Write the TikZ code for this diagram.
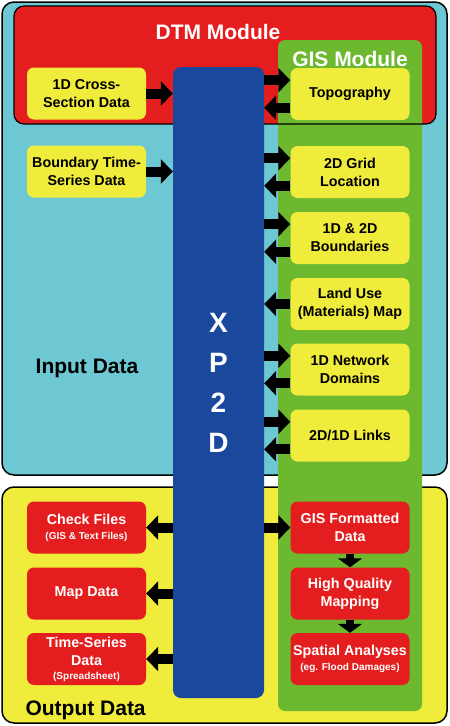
\documentclass[tikz,border=0pt]{standalone}
\usepackage{fontspec}
\setmainfont{Liberation Sans}
\usetikzlibrary{arrows.meta,positioning,calc}
\definecolor{inputcyan}{RGB}{110,200,212}
\definecolor{outyellow}{RGB}{240,236,60}
\definecolor{dtmred}{RGB}{228,30,30}
\definecolor{gisgreen}{RGB}{108,184,46}
\definecolor{xpblue}{RGB}{26,72,156}
\definecolor{boxyellow}{RGB}{240,236,60}
\newcommand{\boxfont}{\fontsize{14.3}{18}\selectfont\bfseries}
\newcommand{\subfont}{\fontsize{10}{14}\selectfont}
\newcommand{\titlefont}{\fontsize{21}{24}\selectfont\bfseries}

\begin{document}
\begin{tikzpicture}[
        x=1pt, y=-1pt,
        panel/.style={draw=black, line width=1.5pt, rounded corners=12pt},
        inbox/.style={rectangle, rounded corners=7pt, fill=boxyellow, minimum width=119pt, minimum height=52pt, inner sep=0.5pt, align=center, font=\boxfont},
        outbox/.style={inbox, fill=dtmred, text=white},
        arrow/.style={line width=10pt, -{Triangle[length=12pt,width=24pt]}},
        downarrow/.style={line width=8pt, -{Triangle[length=9pt,width=24pt]}}
    ]
        \useasboundingbox (0,0) rectangle (450,726);

        % Input and output panels
        \fill[white] (0,0) rectangle (450,726);
        \draw[panel, fill=inputcyan] (2,2) rectangle (447,475);
        \draw[panel, fill=outyellow] (2,487) rectangle (447,723);

        % DTM Module
        \fill[dtmred, rounded corners=10pt] (14,6) rectangle (436,124);

        % GIS Module
        \fill[gisgreen, rounded corners=7pt] (278,40) rectangle (422,711);
        \draw[black, line width=1.2pt, rounded corners=10pt] (14,6) rectangle (436,124);

        % XP2D
        \node[rectangle, rounded corners=8pt, fill=xpblue, minimum width=91pt, minimum height=631pt,
              align=center, text=white, font=\fontsize{28}{40}\selectfont\bfseries] (xp) at (218.5,382.5) {X\\P\\2\\D};

        % Titles
        \node[text=white, font=\titlefont] (dtm) at (218,32) {DTM Module};
        \node[text=white, font=\titlefont] (gis) at (350,59) {GIS Module};
        \node[font=\titlefont] (indata) at (87,368) {Input Data};
        \node[font=\titlefont, anchor=west] (outdata) at (22,710) {Output Data};

        % Input data
        \node[inbox] (cross) at (86.5,93.5) {1D Cross-\\Section Data};
        \node[inbox] (bts) at (86.5,171.5) {Boundary Time-\\Series Data};

        % GIS inputs
        \node[inbox] (topo) at (350,94) {Topography};
        \node[inbox] (grid) at (350,172) {2D Grid\\Location};
        \node[inbox] (bound) at (350,238) {1D \& 2D\\Boundaries};
        \node[inbox] (land) at (350,304) {Land Use\\(Materials) Map};
        \node[inbox] (net) at (350,369.5) {1D Network\\Domains};
        \node[inbox] (links) at (350,435.5) {2D/1D Links};

        % Outputs
        \node[outbox] (check) at (86.5,527.5) {Check Files\\[-3pt]{\subfont(GIS \& Text Files)}};
        \node[outbox] (map) at (86.5,593.5) {Map Data};
        \node[outbox] (tsd) at (86.5,659) {Time-Series\\Data\\[-4pt]{\subfont(Spreadsheet)}};
        \node[outbox] (gisdata) at (350,527.5) {GIS Formatted\\Data};
        \node[outbox] (hq) at (350,593.5) {High Quality\\Mapping};
        \node[outbox] (spatial) at (350,659) {Spatial Analyses\\[-3pt]{\subfont(eg. Flood Damages)}};

        % Arrows into XP2D
        \draw[arrow] (cross) -- (cross -| xp.west);
        \draw[arrow] (bts) -- (bts -| xp.west);

        % Arrows to and from GIS
        \foreach \b in {topo, grid, bound, net, links}{
            \draw[arrow] (xp.east |- \b.167) -- (\b.167);
            \draw[arrow] (\b.193) -- (\b.193 -| xp.east);
        }
        \draw[arrow] (land) -- (land -| xp.east);

        % Output arrows
        \draw[arrow] (xp.west |- check) -- (check);
        \draw[arrow] (xp.west |- map) -- (map);
        \draw[arrow] (xp.west |- tsd) -- (tsd);
        \draw[arrow] (xp.east |- gisdata) -- (gisdata);
        \draw[downarrow] (gisdata) -- (hq);
        \draw[downarrow] (hq) -- (spatial);

    \end{tikzpicture}
\end{document}
